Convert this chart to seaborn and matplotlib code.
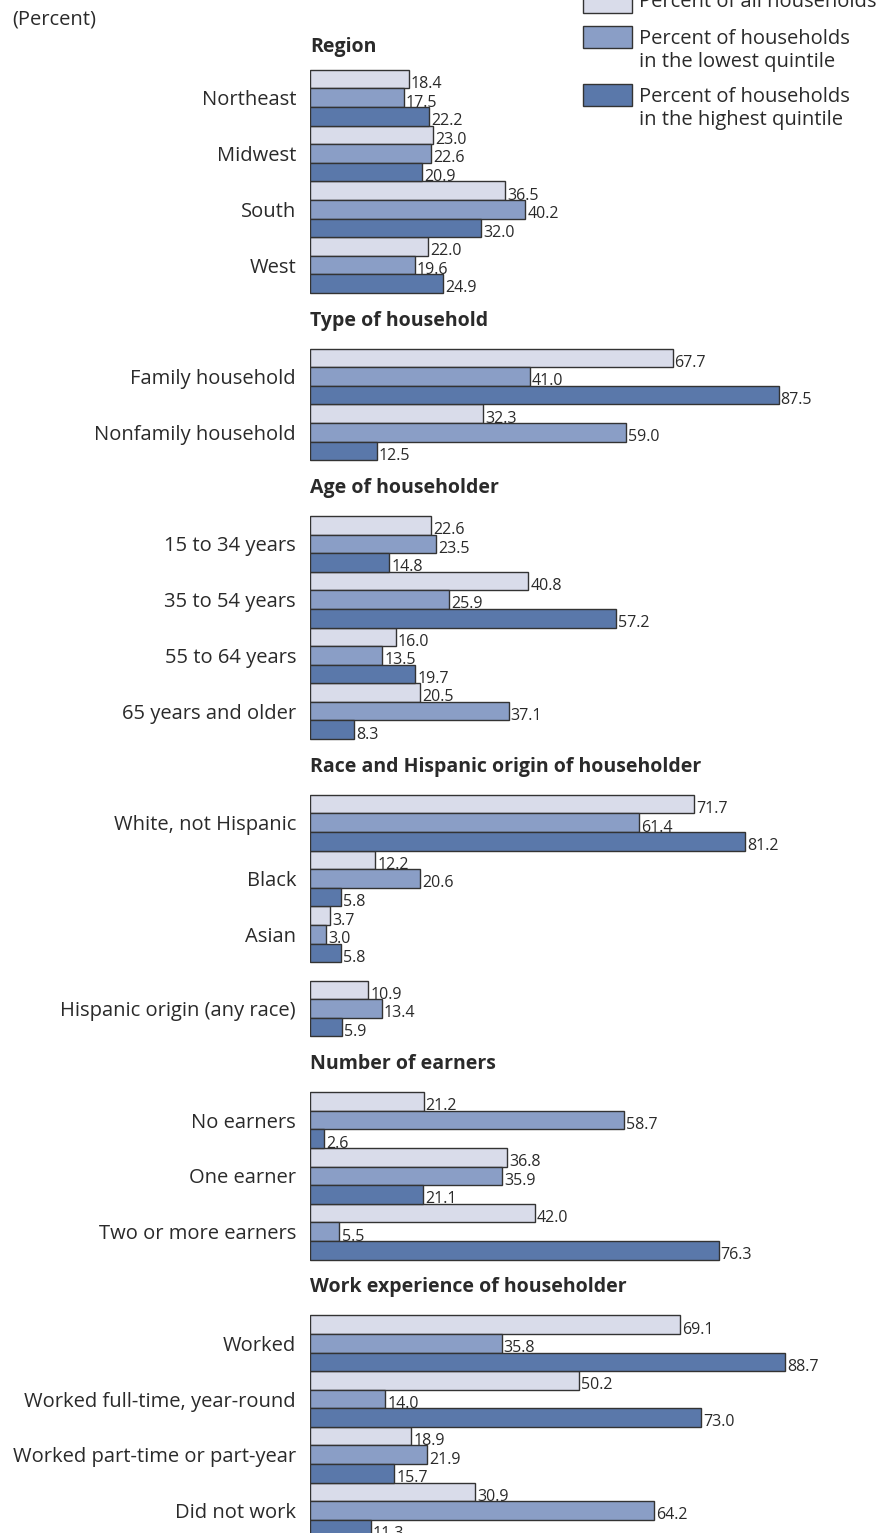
import numpy as np
import pandas as pd
import matplotlib.pyplot as plt
import seaborn as sns
from matplotlib.patches import Rectangle

sections = [
    "Region",
    "Type of household",
    "Age of householder",
    "Race and Hispanic origin of householder",
    "Number of earners",
    "Work experience of householder",
]
categories = [
    "Northeast", "Midwest", "South", "West",
    "Family household", "Nonfamily household",
    "15 to 34 years", "35 to 54 years", "55 to 64 years", "65 years and older",
    "White, not Hispanic", "Black", "Asian", "Hispanic origin (any race)",
    "No earners", "One earner", "Two or more earners",
    "Worked", "Worked full-time, year-round", "Worked part-time or part-year", "Did not work",
]
category_section = [0, 0, 0, 0, 1, 1, 2, 2, 2, 2, 3, 3, 3, 3, 4, 4, 4, 5, 5, 5, 5]
all_households = [18.4, 23.0, 36.5, 22.0, 67.7, 32.3, 22.6, 40.8, 16.0, 20.5,
                  71.7, 12.2, 3.7, 10.9, 21.2, 36.8, 42.0, 69.1, 50.2, 18.9, 30.9]
lowest_quintile = [17.5, 22.6, 40.2, 19.6, 41.0, 59.0, 23.5, 25.9, 13.5, 37.1,
                   61.4, 20.6, 3.0, 13.4, 58.7, 35.9, 5.5, 35.8, 14.0, 21.9, 64.2]
highest_quintile = [22.2, 20.9, 32.0, 24.9, 87.5, 12.5, 14.8, 57.2, 19.7, 8.3,
                    81.2, 5.8, 5.8, 5.9, 2.6, 21.1, 76.3, 88.7, 73.0, 15.7, 11.3]
series_names = [
    "Percent of all households",
    "Percent of households\nin the lowest quintile",
    "Percent of households\nin the highest quintile",
]
colors = ["#D9DCEA", "#8A9EC6", "#5A78AA"]
text_color = "#2a2a2a"

# slot layout: one slot per category, one per section header,
# plus a small spacer before the Hispanic group
spacer_before = {"Hispanic origin (any race)": 1 / 3}
positions, header_pos = [], []
u = 0.0
for i, (cat, sec) in enumerate(zip(categories, category_section)):
    if i > 0 and sec != category_section[i - 1]:
        header_pos.append(u)
        u += 1
    u += spacer_before.get(cat, 0)
    positions.append(u)
    u += 1
header_pos.insert(0, -0.91)

df = pd.DataFrame({
    "pos": positions * 3,
    "value": all_households + lowest_quintile + highest_quintile,
    "series": np.repeat(series_names, len(categories)),
})

sns.set_style("white")
plt.rcParams["font.family"] = ["Open Sans", "DejaVu Sans"]

W, H = 895, 1533
fig = plt.figure(figsize=(W / 100, H / 100), dpi=100)
x0 = 310
px_per_unit = 5.355
ax = fig.add_axes([x0 / W, 0, (W - x0) / W, 1])

sns.barplot(data=df, x="value", y="pos", hue="series", orient="y",
            native_scale=True, width=1.0, palette=colors, hue_order=series_names,
            saturation=1, edgecolor="#333333", linewidth=1.0, errorbar=None,
            legend=False, ax=ax)

pitch = 55.77
top_center = 97.7
ax.set_xlim(0, (W - x0) / px_per_unit)
ax.set_ylim((H - top_center) / pitch, -top_center / pitch)

for cont in ax.containers:
    anns = ax.bar_label(cont, fmt="%.1f", padding=2, fontsize=11.5, color=text_color)
    for a in anns:
        a.xyann = (1.5, -3.5)

ax.set_yticks(positions, labels=categories)
ax.tick_params(axis="y", length=0, pad=10, labelsize=14.5, labelcolor=text_color)
ax.set_xticks([])
ax.set_xlabel("")
ax.set_ylabel("")
for s in ax.spines.values():
    s.set_visible(False)

for name, hp in zip(sections, header_pos):
    ax.text(0, hp, name, fontsize=14, fontweight="bold", color=text_color,
            ha="left", va="center")

fig.text(12 / W, 1 - 20 / H, "(Percent)", fontsize=14.5, color=text_color,
         ha="left", va="center")

# legend drawn by hand at the top right
sq_tops = [-9, 26, 84]
for name, c, top in zip(series_names, colors, sq_tops):
    fig.add_artist(Rectangle((583 / W, 1 - (top + 22) / H), 49 / W, 22 / H,
                             transform=fig.transFigure, facecolor=c,
                             edgecolor="#333333", linewidth=1.0))
    fig.text(639 / W, 1 - (top + 11 + (13 if "\n" in name else 0)) / H, name,
             fontsize=14.5, color=text_color, ha="left", va="center",
             linespacing=1.2)

fig.savefig("out.png", dpi=100)
